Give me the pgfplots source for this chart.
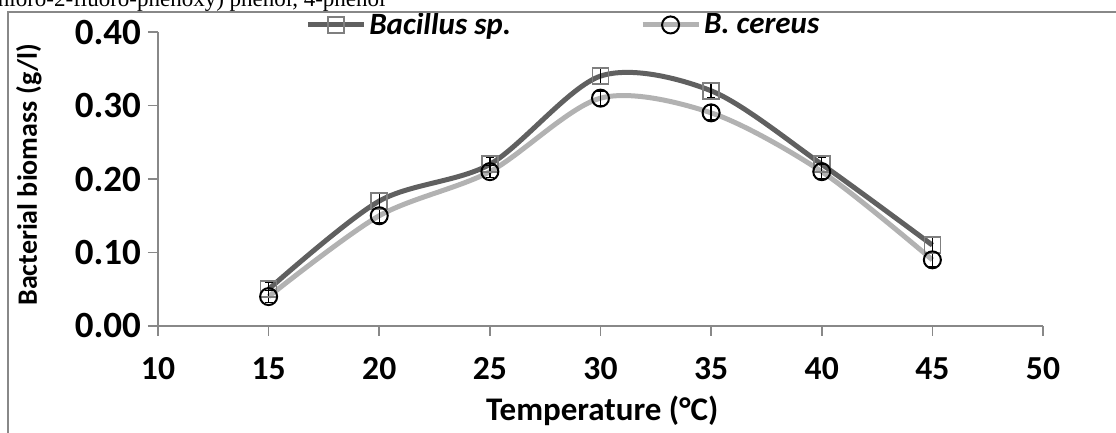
\documentclass[border=0pt]{standalone}
\usepackage{pgfplots}
\pgfplotsset{compat=1.18}
\usepackage{fontspec}
\setmainfont{Carlito}
\newfontfamily\seriffont{Liberation Serif}
\definecolor{darkline}{HTML}{606060}
\definecolor{lightline}{HTML}{B2B2B2}
\definecolor{sqgrey}{HTML}{7F7F7F}
\definecolor{axisgrey}{HTML}{888888}
\pgfplotstableread{
x y e
15 0.05 0.01
20 0.17 0.01
25 0.22 0.01
30 0.34 0.01
35 0.32 0.01
40 0.22 0.01
45 0.11 0.01
}\bacillus
\pgfplotstableread{
x y e
15 0.04 0.008
20 0.15 0.01
25 0.21 0.008
30 0.31 0.01
35 0.29 0.01
40 0.21 0.01
45 0.09 0.01
}\cereus
\begin{document}
\begin{tikzpicture}
\begin{axis}[name=ax,
  scale only axis, width=442.5pt, height=147pt,
  xmin=10, xmax=50, ymin=0, ymax=0.4,
  axis x line*=bottom, axis y line*=left,
  axis line style={color=axisgrey, line width=0.8pt},
  tick style={color=axisgrey, line width=0.8pt},
  major tick length=5pt, tick align=outside,
  xtick={10,15,20,25,30,35,40,45,50},
  ytick={0,0.1,0.2,0.3,0.4},
  /pgf/number format/assume math mode=true,
  yticklabel style={/pgf/number format/fixed, /pgf/number format/fixed zerofill, /pgf/number format/precision=2,
    font=\fontsize{18.5}{21}\selectfont\bfseries, color=black},
  xticklabel style={font=\fontsize{16.8}{20}\selectfont\bfseries, color=black, anchor=center, yshift=-16.5pt},
  xlabel={Temperature (°C)},
  ylabel={Bacterial biomass (g/l)},
  xlabel style={font=\fontsize{16.5}{19}\selectfont\bfseries, at={(axis description cs:0.502,-0.289)}, anchor=center},
  ylabel style={font=\fontsize{14}{17}\selectfont\bfseries, at={(axis description cs:-0.1458,0.514)}, anchor=center},
  legend columns=2,
  legend style={draw=none, fill=none, at={(rel axis cs:0.166,1.024)}, anchor=west,
    inner xsep=0pt, inner ysep=0pt,
    font=\fontsize{15.5}{18}\selectfont\bfseries\itshape,
    nodes={inner xsep=1.5pt},
    /tikz/every even column/.append style={column sep=63pt}},
  legend image code/.code={\draw[mark repeat=2,mark phase=2] plot coordinates {(0pt,0pt)(14pt,0pt)(28pt,0pt)};},
  clip=false,
]
\addplot[color=darkline, line width=2.5pt, smooth, mark=square, mark size=4pt,
  mark options={draw=sqgrey, line width=0.8pt, fill=none, solid},
  error bars/.cd, y dir=both, y explicit,
  error bar style={black, line width=0.7pt},
  error mark options={rotate=90, mark size=2pt, black, line width=0.7pt}]
  table[x=x, y=y, y error=e] {\bacillus};
\addlegendentry{Bacillus sp.}
\addplot[color=lightline, line width=2.5pt, smooth, mark=o, mark size=4.25pt,
  mark options={draw=black, line width=1pt, fill=none, solid},
  error bars/.cd, y dir=both, y explicit,
  error bar style={black, line width=0.7pt},
  error mark options={rotate=90, mark size=2pt, black, line width=0.7pt}]
  table[x=x, y=y, y error=e] {\cereus};
\addlegendentry{B. cereus}
\end{axis}
\draw[color=axisgrey, line width=0.6pt] ([shift={(-75pt,-80pt)}]ax.south west) rectangle ([shift={(520pt,157pt)}]ax.south west);
\node[anchor=base east, inner sep=0pt, font=\seriffont\fontsize{11.5}{13}\selectfont] at ([shift={(114pt,159.5pt)}]ax.south west) {chloro-2-fluoro-phenoxy) phenol, 4-phenol};
\pgfresetboundingbox
\path[use as bounding box] ([shift={(-79pt,-53.5pt)}]ax.south west) rectangle ([shift={(479pt,163pt)}]ax.south west);
\end{tikzpicture}
\end{document}
